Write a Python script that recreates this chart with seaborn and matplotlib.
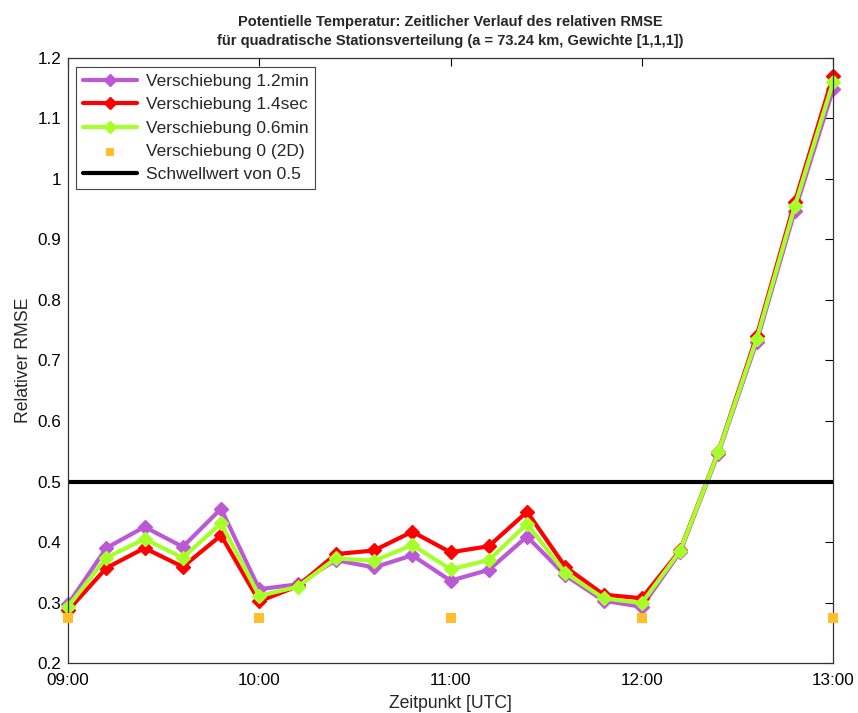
import numpy as np
import pandas as pd
import matplotlib
matplotlib.use("Agg")
import matplotlib.pyplot as plt
import seaborn as sns

# Time stamps (UTC) of the analysis steps
times = ["09:00", "09:12", "09:24", "09:36", "09:48", "10:00", "10:12", "10:24",
         "10:36", "10:48", "11:00", "11:12", "11:24", "11:36", "11:48", "12:00",
         "12:12", "12:24", "12:36", "12:48", "13:00"]

# Relative RMSE for the different shifts
rmse_12min = [0.297, 0.390, 0.425, 0.392, 0.455, 0.322, 0.330, 0.370, 0.358, 0.378,
              0.336, 0.354, 0.409, 0.345, 0.303, 0.293, 0.383, 0.546, 0.730, 0.947, 1.148]
rmse_14sec = [0.287, 0.357, 0.390, 0.359, 0.411, 0.302, 0.327, 0.380, 0.386, 0.417,
              0.383, 0.393, 0.450, 0.359, 0.313, 0.307, 0.386, 0.549, 0.740, 0.962, 1.170]
rmse_06min = [0.293, 0.374, 0.405, 0.374, 0.431, 0.311, 0.326, 0.373, 0.369, 0.395,
              0.355, 0.370, 0.430, 0.349, 0.307, 0.299, 0.385, 0.548, 0.735, 0.955, 1.160]

# 2D reference (no shift), available at full hours only
times_2d = ["09:00", "10:00", "11:00", "12:00", "13:00"]
rmse_2d = [0.275, 0.275, 0.275, 0.275, 0.275]

threshold = 0.5

x_ticks = ["09:00", "10:00", "11:00", "12:00", "13:00"]


def to_hours(t):
    h, m = t.split(":")
    return int(h) + int(m) / 60.0


sns.set_style("white")
plt.rcParams["font.family"] = ["Liberation Sans", "DejaVu Sans"]

fig = plt.figure(figsize=(8.58, 7.13), dpi=100)
ax = fig.add_axes([0.0793, 0.0701, 0.8916, 0.8486])

df = pd.DataFrame({
    "t": [to_hours(t) for t in times],
    "v12": rmse_12min,
    "v14": rmse_14sec,
    "v06": rmse_06min,
})
df2d = pd.DataFrame({"t": [to_hours(t) for t in times_2d], "v": rmse_2d})

series = [
    ("v12", "#BC58D6", "Verschiebung 1.2min"),
    ("v14", "#FF0000", "Verschiebung 1.4sec"),
    ("v06", "#A6FF2A", "Verschiebung 0.6min"),
]
for col, color, label in series:
    sns.lineplot(data=df, x="t", y=col, ax=ax, color=color, linewidth=3,
                 marker="D", markersize=7.5, markeredgecolor=color,
                 markeredgewidth=1, label=label, clip_on=False)

sns.scatterplot(data=df2d, x="t", y="v", ax=ax, color="#FFBE2A", marker="s",
                s=52, edgecolor="none", label="Verschiebung 0 (2D)", zorder=3,
                clip_on=False)

ax.axhline(threshold, color="black", linewidth=3, label="Schwellwert von 0.5")

ax.set_xlim(9, 13)
ax.set_ylim(0.2, 1.2)
ax.set_xticks([to_hours(t) for t in x_ticks])
ax.set_xticklabels(x_ticks)
ax.set_yticks(np.round(np.arange(0.2, 1.21, 0.1), 1))
ax.set_yticklabels(["0.2", "0.3", "0.4", "0.5", "0.6", "0.7", "0.8", "0.9", "1", "1.1", "1.2"])
ax.tick_params(direction="in", length=6, width=0.8, top=True, right=True,
               labelsize=12.3, colors="black")
ax.tick_params(axis="x", pad=7)
ax.tick_params(axis="y", pad=5)
for lab in ax.get_xticklabels() + ax.get_yticklabels():
    lab.set_color("black")

for s in ax.spines.values():
    s.set_color("#333333")
    s.set_linewidth(0.9)

ax.set_xlabel("Zeitpunkt [UTC]", fontsize=12.7, labelpad=5)
ax.set_ylabel("Relativer RMSE", fontsize=12.7, labelpad=4)
ax.set_title("Potentielle Temperatur: Zeitlicher Verlauf des relativen RMSE\n"
             "für quadratische Stationsverteilung (a = 73.24 km, Gewichte [1,1,1])",
             fontsize=10.5, fontweight="bold", pad=9, linespacing=1.5)

leg = ax.legend(loc="upper left", bbox_to_anchor=(0.0105, 0.985), fontsize=12.5,
                frameon=True, fancybox=False, framealpha=1, edgecolor="#444444",
                handlelength=3.1, handletextpad=0.5, borderpad=0.4,
                labelspacing=0.47, borderaxespad=0, markerscale=0.8)
leg.get_frame().set_linewidth(0.8)

fig.savefig("out.png", dpi=100)
